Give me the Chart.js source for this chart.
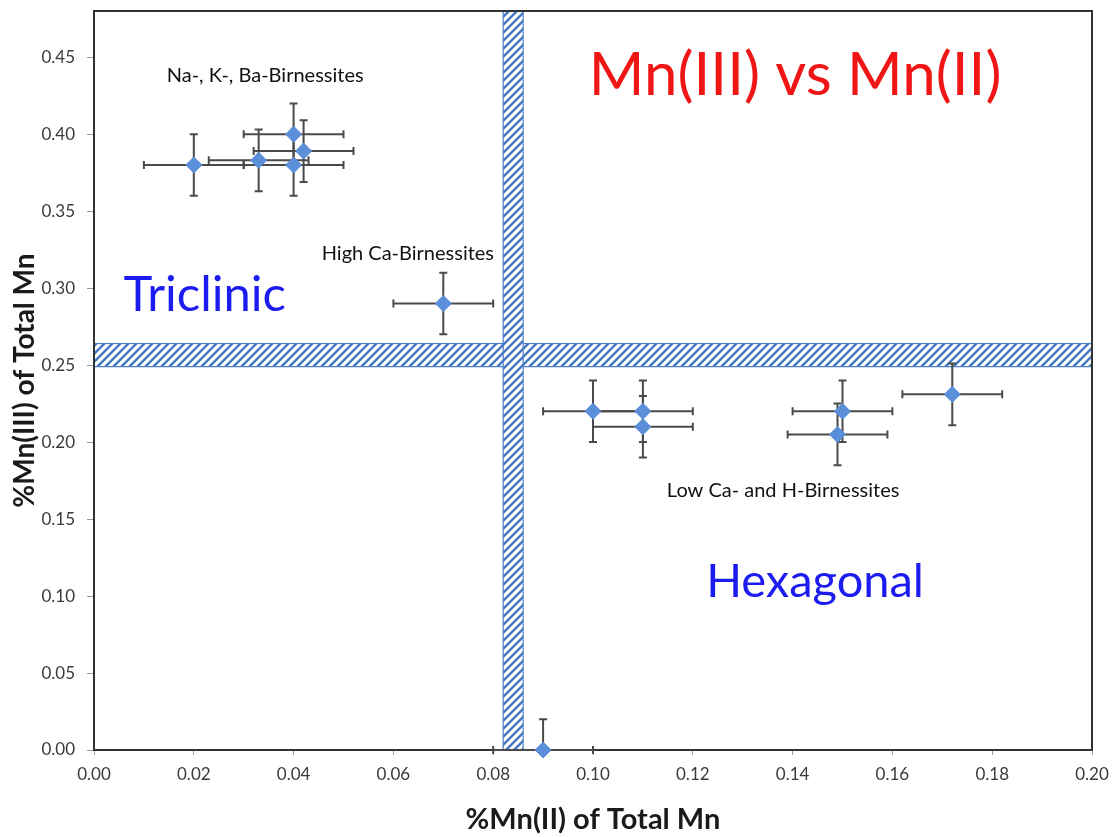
<!DOCTYPE html>
<html>
<head>
<meta charset="utf-8">
<script src="https://cdn.jsdelivr.net/npm/chart.js@4/dist/chart.umd.min.js"></script>
<style>
  html, body { margin: 0; padding: 0; background: #ffffff; }
  canvas { display: block; }
</style>
</head>
<body>
<canvas id="c" width="1114" height="837"></canvas>
<script>
// Birnessite samples: fraction of Mn(II) vs fraction of Mn(III)
const mnII  = [0.020, 0.033, 0.040, 0.040, 0.042, 0.070, 0.100, 0.110, 0.110, 0.150, 0.149, 0.172, 0.090];
const mnIII = [0.380, 0.383, 0.400, 0.380, 0.389, 0.290, 0.220, 0.220, 0.210, 0.220, 0.205, 0.231, 0.000];
const mnIIErr  = [0.01, 0.01, 0.01, 0.01, 0.01, 0.01, 0.01, 0.01, 0.01, 0.01, 0.01, 0.01, 0.01];
const mnIIIErr = [0.02, 0.02, 0.02, 0.02, 0.02, 0.02, 0.02, 0.02, 0.02, 0.02, 0.02, 0.02, 0.02];

// Axis ticks
const xTicks = [0.00, 0.02, 0.04, 0.06, 0.08, 0.10, 0.12, 0.14, 0.16, 0.18, 0.20];
const yTicks = [0.00, 0.05, 0.10, 0.15, 0.20, 0.25, 0.30, 0.35, 0.40, 0.45];

// Boundary bands between triclinic and hexagonal fields
const mnIIBoundary  = [0.082, 0.086];
const mnIIIBoundary = [0.249, 0.264];

const FONT = "Lato, 'Open Sans', 'Liberation Sans', sans-serif";

function hatchPattern(ctx) {
  const t = document.createElement('canvas');
  t.width = 8; t.height = 8;
  const g = t.getContext('2d');
  g.fillStyle = '#ffffff';
  g.fillRect(0, 0, 8, 8);
  g.strokeStyle = '#4578c2';
  g.lineWidth = 2.4;
  g.beginPath();
  g.moveTo(-2, 10); g.lineTo(10, -2);
  g.moveTo(-2, 2);  g.lineTo(2, -2);
  g.moveTo(6, 10);  g.lineTo(10, 6);
  g.stroke();
  return ctx.createPattern(t, 'repeat');
}

const backdrop = {
  id: 'backdrop',
  beforeDatasetsDraw(chart) {
    const { ctx, chartArea: a, scales: { x, y } } = chart;
    const pat = hatchPattern(ctx);
    ctx.save();
    // horizontal band (Mn(III) boundary)
    const hy1 = y.getPixelForValue(mnIIIBoundary[1]);
    const hy0 = y.getPixelForValue(mnIIIBoundary[0]);
    ctx.fillStyle = pat;
    ctx.fillRect(a.left, hy1, a.right - a.left, hy0 - hy1);
    ctx.strokeStyle = '#4a7cc4';
    ctx.lineWidth = 1.2;
    ctx.strokeRect(a.left, hy1, a.right - a.left, hy0 - hy1);
    // vertical band (Mn(II) boundary)
    const vx0 = x.getPixelForValue(mnIIBoundary[0]);
    const vx1 = x.getPixelForValue(mnIIBoundary[1]);
    ctx.fillStyle = pat;
    ctx.fillRect(vx0, a.top, vx1 - vx0, a.bottom - a.top);
    ctx.strokeRect(vx0, a.top, vx1 - vx0, a.bottom - a.top);

    // plot frame
    ctx.strokeStyle = '#333333';
    ctx.lineWidth = 2;
    ctx.strokeRect(a.left, a.top, a.right - a.left, a.bottom - a.top);

    // error bars
    ctx.strokeStyle = '#4a4a4a';
    ctx.lineWidth = 2;
    const cap = 4;
    for (let i = 0; i < mnII.length; i++) {
      const px = x.getPixelForValue(mnII[i]);
      const py = y.getPixelForValue(mnIII[i]);
      const xl = x.getPixelForValue(mnII[i] - mnIIErr[i]);
      const xr = x.getPixelForValue(mnII[i] + mnIIErr[i]);
      const lowV = mnIII[i] - mnIIIErr[i];
      const yt = y.getPixelForValue(mnIII[i] + mnIIIErr[i]);
      const yb = y.getPixelForValue(Math.max(lowV, y.min));
      ctx.beginPath();
      ctx.moveTo(xl, py); ctx.lineTo(xr, py);
      ctx.moveTo(xl, py - cap); ctx.lineTo(xl, py + cap);
      ctx.moveTo(xr, py - cap); ctx.lineTo(xr, py + cap);
      ctx.moveTo(px, yt); ctx.lineTo(px, yb);
      ctx.moveTo(px - cap, yt); ctx.lineTo(px + cap, yt);
      if (lowV >= y.min) { ctx.moveTo(px - cap, yb); ctx.lineTo(px + cap, yb); }
      ctx.stroke();
    }
    ctx.restore();
  }
};

const labels = {
  id: 'labels',
  afterDatasetsDraw(chart) {
    const { ctx, scales: { x, y } } = chart;
    const items = [
      { t: 'Na-, K-, Ba-Birnessites', x: 0.0343, y: 0.438, size: 20, color: '#111111' },
      { t: 'High Ca-Birnessites', x: 0.0629, y: 0.3227, size: 20, color: '#111111' },
      { t: 'Low Ca- and H-Birnessites', x: 0.1381, y: 0.1688, size: 20, color: '#111111' },
      { t: 'Triclinic', x: 0.0222, y: 0.2955, size: 49, color: '#1c1cf0' },
      { t: 'Mn(III) vs Mn(II)', x: 0.1405, y: 0.438, size: 60, color: '#f01616' },
      { t: 'Hexagonal', x: 0.1445, y: 0.109, size: 47, color: '#1c1cf0' }
    ];
    ctx.save();
    ctx.textAlign = 'center';
    ctx.textBaseline = 'middle';
    for (const it of items) {
      ctx.font = `${it.size}px ${FONT}`;
      ctx.fillStyle = it.color;
      ctx.fillText(it.t, x.getPixelForValue(it.x), y.getPixelForValue(it.y));
    }
    ctx.restore();
  }
};

new Chart(document.getElementById('c'), {
  type: 'scatter',
  data: {
    datasets: [{
      data: mnII.map((v, i) => ({ x: v, y: mnIII[i] })),
      pointStyle: 'rectRot',
      pointRadius: 8,
      pointHoverRadius: 8,
      backgroundColor: '#5b8fda',
      borderColor: '#5a8cd6',
      borderWidth: 1,
      clip: false
    }]
  },
  options: {
    responsive: false,
    animation: false,
    devicePixelRatio: 1,
    layout: { padding: { left: 0, top: 11, right: 22, bottom: 0 } },
    plugins: { legend: { display: false }, tooltip: { enabled: false } },
    scales: {
      x: {
        type: 'linear', min: 0, max: 0.20,
        afterBuildTicks: s => { s.ticks = xTicks.map(v => ({ value: v })); },
        afterFit: s => { s.height = 87; s.paddingLeft = 0; s.paddingRight = 0; },
        grid: { drawOnChartArea: false, drawTicks: true, tickLength: 5, color: '#9a9a9a' },
        border: { display: false },
        ticks: {
          padding: 9,
          color: '#3a3a3a',
          font: { family: FONT, size: 17 },
          callback: v => v.toFixed(2),
          maxRotation: 0, autoSkip: false
        },
        title: {
          display: true,
          text: '%Mn(II) of Total Mn',
          color: '#1a1a1a',
          font: { family: FONT, size: 29, weight: 'bold' },
          padding: { top: 0, bottom: 0 }
        }
      },
      y: {
        type: 'linear', min: 0, max: 0.48,
        afterBuildTicks: s => { s.ticks = yTicks.map(v => ({ value: v })); },
        afterFit: s => { s.width = 94; s.paddingTop = 0; s.paddingBottom = 0; },
        grid: { drawOnChartArea: false, drawTicks: true, tickLength: 7, color: '#9a9a9a' },
        border: { display: false },
        ticks: {
          padding: 12,
          color: '#3a3a3a',
          font: { family: FONT, size: 17 },
          callback: v => v.toFixed(2),
          autoSkip: false
        },
        title: {
          display: true,
          text: '%Mn(III) of Total Mn',
          color: '#1a1a1a',
          font: { family: FONT, size: 28, weight: 'bold' },
          padding: { top: 8, bottom: 0 }
        }
      }
    }
  },
  plugins: [backdrop, labels]
});
</script>
</body>
</html>
